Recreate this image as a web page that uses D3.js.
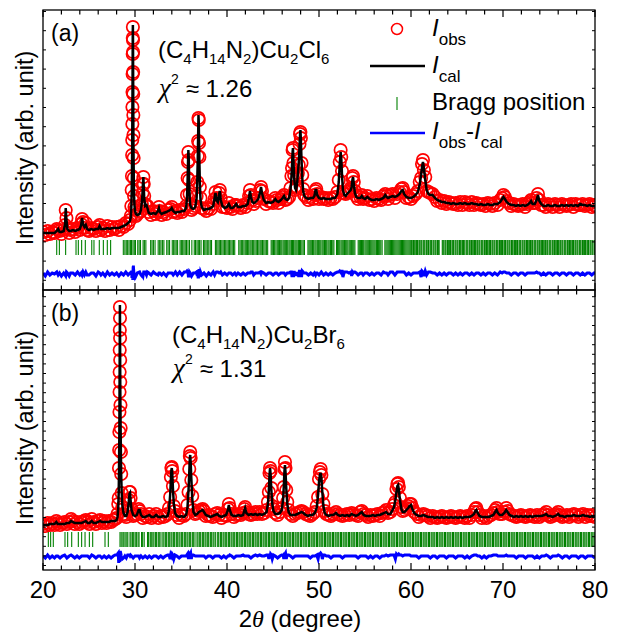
<!DOCTYPE html>
<html>
<head>
<meta charset="utf-8">
<script src="https://cdn.jsdelivr.net/npm/d3@7"></script>
<style>
  body { margin: 0; background: #fff; }
  svg text { font-family: "Liberation Sans", Arial, sans-serif; fill: #000; }
</style>
</head>
<body>
<svg id="chart" width="619" height="635"></svg>
<script>
// Rietveld scans, rows are [2theta, I_cal, I_obs] in arb. units
const scanA = [
  [20.00,57,58],[20.25,57,55],[20.50,57,59],[20.75,57,56],[21.00,57,58],[21.25,57,57],[21.50,59,61],[21.65,61,60],
  [21.80,58,59],[22.00,58,56],[22.25,59,60],[22.40,66,65],[22.47,82,80],[22.55,70,72],[22.65,61,62],[22.85,59,57],
  [23.00,59,60],[23.25,60,61],[23.50,59,58],[23.75,60,62],[24.00,61,60],[24.15,65,66],[24.25,72,71],[24.35,66,68],
  [24.50,63,62],[24.65,65,67],[24.80,61,60],[25.00,60,59],[25.25,61,62],[25.50,60,61],[25.75,61,59],[26.00,61,63],
  [26.15,64,65],[26.30,61,60],[26.50,61,62],[26.75,61,59],[27.00,62,64],[27.25,61,60],[27.50,62,63],[27.75,62,61],
  [28.00,62,63],[28.25,62,60],[28.50,63,64],[28.75,64,63],[29.00,65,67],[29.25,67,66],[29.45,69,70],[29.55,73,74],
  [29.60,82,84],[29.64,98,100],[29.67,118,114],[29.69,138,135],[29.70,152,150],[29.71,168,166],[29.72,184,183],
  [29.73,200,198],[29.74,218,216],[29.75,240,236],[29.76,258,252],[29.77,265,263],[29.78,255,250],[29.79,235,238],
  [29.80,212,218],[29.81,190,196],[29.82,168,175],[29.83,148,155],[29.85,128,132],[29.87,110,112],[29.90,95,94],
  [29.94,85,83],[30.00,79,80],[30.10,76,74],[30.25,75,76],[30.50,76,78],[30.65,80,79],[30.75,88,86],[30.82,98,97],
  [30.87,108,106],[30.91,113,113],[30.95,104,106],[31.00,92,94],[31.10,84,86],[31.25,85,84],[31.35,82,84],
  [31.50,77,78],[31.75,76,75],[32.00,77,79],[32.25,76,76],[32.50,79,78],[32.60,82,83],[32.70,78,79],[32.90,76,75],
  [33.10,77,78],[33.40,78,76],[33.60,79,80],[33.85,80,81],[34.00,82,83],[34.15,79,78],[34.40,77,79],[34.60,78,77],
  [34.85,78,80],[35.10,79,78],[35.35,79,81],[35.55,82,84],[35.65,92,95],[35.72,110,112],[35.76,126,128],
  [35.80,140,138],[35.84,132,130],[35.88,112,110],[35.93,94,96],[36.00,85,86],[36.15,82,80],[36.35,81,82],
  [36.55,83,84],[36.70,92,94],[36.77,110,108],[36.82,130,134],[36.86,152,149],[36.90,175,172],[36.93,168,170],
  [36.96,150,147],[37.00,128,133],[37.05,106,103],[37.12,90,92],[37.25,83,82],[37.50,80,81],[37.75,81,79],
  [38.00,81,82],[38.25,82,81],[38.50,84,86],[38.65,92,91],[38.75,97,98],[38.85,90,92],[39.00,88,90],[39.15,96,97],
  [39.22,99,100],[39.32,90,92],[39.50,84,83],[39.75,82,83],[40.00,83,82],[40.20,86,87],[40.40,82,83],[40.60,82,81],
  [40.85,84,85],[41.00,86,85],[41.20,83,84],[41.50,83,82],[41.75,84,85],[42.00,84,83],[42.25,86,87],[42.40,93,94],
  [42.50,99,100],[42.60,93,95],[42.75,88,90],[42.90,87,86],[43.10,88,89],[43.40,91,92],[43.60,98,100],[43.70,103,103],
  [43.80,97,99],[44.00,90,91],[44.25,87,86],[44.50,88,89],[44.75,87,88],[45.00,88,87],[45.25,91,92],[45.40,89,90],
  [45.60,88,87],[45.85,90,91],[46.05,92,93],[46.20,94,95],[46.35,91,90],[46.55,90,91],[46.75,92,93],[46.90,100,102],
  [47.00,112,114],[47.07,125,122],[47.13,138,140],[47.17,142,142],[47.22,130,127],[47.30,112,115],[47.40,102,100],
  [47.50,100,102],[47.60,105,103],[47.70,115,117],[47.80,128,125],[47.88,142,146],[47.94,155,156],[47.98,160,158],
  [48.03,150,152],[48.10,130,127],[48.18,112,115],[48.28,99,101],[48.40,94,95],[48.60,92,93],[48.85,91,90],
  [49.10,92,93],[49.35,92,91],[49.50,94,95],[49.62,100,99],[49.70,100,101],[49.80,95,96],[50.00,92,91],[50.25,91,93],
  [50.50,92,91],[50.75,91,92],[51.00,91,90],[51.25,91,92],[51.50,92,91],[51.75,92,93],[52.00,96,98],[52.15,108,110],
  [52.25,125,128],[52.35,138,140],[52.42,132,133],[52.50,115,119],[52.60,100,97],[52.75,95,97],[52.90,94,96],
  [53.05,96,98],[53.25,98,99],[53.45,100,102],[53.55,103,101],[53.63,110,112],[53.70,113,114],[53.78,106,108],
  [53.90,97,99],[54.05,93,94],[54.25,92,91],[54.50,92,93],[54.65,94,95],[54.80,92,91],[55.00,91,92],[55.25,93,94],
  [55.50,91,90],[55.75,90,91],[56.00,90,89],[56.25,91,92],[56.50,90,91],[56.75,91,90],[57.00,92,94],[57.20,95,96],
  [57.35,93,94],[57.50,92,91],[57.75,93,95],[58.00,94,96],[58.25,93,92],[58.50,94,96],[58.75,96,98],[58.95,99,101],
  [59.10,100,102],[59.25,96,98],[59.50,93,92],[59.75,92,93],[60.00,92,91],[60.25,93,94],[60.50,95,96],[60.75,98,99],
  [60.95,106,108],[61.10,115,112],[61.20,123,126],[61.30,128,130],[61.40,122,120],[61.55,110,113],[61.70,100,99],
  [61.90,96,98],[62.10,95,97],[62.35,95,96],[62.60,92,93],[62.85,90,89],[63.10,89,90],[63.35,88,87],[63.60,88,89],
  [63.85,87,86],[64.10,87,88],[64.35,86,87],[64.60,87,86],[64.85,86,87],[65.10,86,85],[65.35,87,88],[65.60,86,85],
  [65.85,87,88],[66.10,86,87],[66.35,86,85],[66.60,87,88],[66.85,86,85],[67.10,86,87],[67.35,85,86],[67.60,86,85],
  [67.85,85,86],[68.10,85,84],[68.35,86,87],[68.60,85,86],[68.85,85,84],[69.10,86,87],[69.40,86,85],[69.70,88,90],
  [69.90,91,92],[70.05,93,95],[70.20,91,93],[70.40,88,89],[70.65,86,87],[70.90,85,84],[71.15,85,86],[71.40,84,85],
  [71.65,85,84],[71.90,84,85],[72.15,85,86],[72.40,84,83],[72.65,85,86],[72.90,87,88],[73.05,89,90],[73.20,86,87],
  [73.45,86,87],[73.65,90,92],[73.80,95,96],[73.95,89,90],[74.15,86,85],[74.40,84,85],[74.65,84,83],[74.90,85,86],
  [75.15,84,85],[75.40,84,83],[75.65,85,86],[75.90,84,85],[76.15,84,83],[76.40,85,86],[76.65,84,85],[76.90,85,84],
  [77.15,84,85],[77.40,85,86],[77.65,84,83],[77.90,85,86],[78.15,84,85],[78.40,86,85],[78.65,85,86],[78.90,85,84],
  [79.15,84,85],[79.40,85,86],[79.65,84,83],[79.90,84,85],[80.00,84,84]
];

const scanB = [
  [20.00,45,46],[20.25,45,44],[20.50,45,47],[20.75,46,45],[21.00,46,47],[21.25,46,45],[21.45,48,49],[21.60,46,47],
  [21.85,46,45],[22.10,46,47],[22.35,46,48],[22.60,47,46],[22.85,47,48],[23.05,49,51],[23.20,48,49],[23.45,47,46],
  [23.70,47,48],[23.95,47,46],[24.20,47,48],[24.45,48,49],[24.65,49,50],[24.85,47,48],[25.05,47,46],[25.30,49,51],
  [25.50,47,48],[25.75,47,46],[26.00,48,49],[26.20,49,50],[26.40,48,47],[26.65,48,49],[26.90,48,47],[27.15,48,49],
  [27.40,49,48],[27.65,49,50],[27.85,49,51],[28.00,50,52],[28.10,53,56],[28.18,62,66],[28.23,78,72],[28.26,98,102],
  [28.28,118,120],[28.30,140,138],[28.31,160,158],[28.32,180,178],[28.33,200,198],[28.34,222,220],[28.35,245,240],
  [28.36,265,263],[28.37,250,252],[28.38,228,232],[28.39,205,210],[28.40,182,188],[28.42,160,165],[28.44,138,142],
  [28.47,115,118],[28.50,95,96],[28.55,78,77],[28.62,65,63],[28.75,57,56],[28.90,54,55],[29.05,54,53],[29.20,58,60],
  [29.32,68,70],[29.40,76,78],[29.46,77,78],[29.52,70,72],[29.62,60,61],[29.80,55,54],[30.00,54,55],[30.20,55,56],
  [30.40,60,61],[30.50,60,59],[30.65,55,56],[30.85,53,52],[31.10,53,54],[31.35,54,53],[31.55,55,56],[31.80,53,52],
  [32.05,53,54],[32.30,55,56],[32.55,53,52],[32.80,53,54],[33.05,54,53],[33.30,53,54],[33.55,54,56],[33.70,60,62],
  [33.82,75,73],[33.90,90,93],[33.96,100,102],[34.00,102,103],[34.05,96,99],[34.12,82,84],[34.22,66,64],
  [34.35,57,59],[34.55,54,55],[34.80,53,52],[35.05,54,55],[35.30,53,54],[35.55,55,56],[35.70,62,65],[35.82,80,78],
  [35.90,98,101],[35.96,112,114],[36.00,115,118],[36.05,108,112],[36.12,92,90],[36.22,72,74],[36.35,58,60],
  [36.55,55,56],[36.75,56,57],[36.95,58,59],[37.15,59,60],[37.35,60,61],[37.50,58,59],[37.70,55,54],[37.95,54,55],
  [38.20,53,54],[38.45,54,53],[38.70,55,56],[38.95,56,57],[39.15,54,55],[39.40,53,52],[39.65,54,55],[39.90,55,54],
  [40.10,60,61],[40.20,65,66],[40.30,60,62],[40.50,55,56],[40.75,54,53],[41.00,54,55],[41.25,55,56],[41.50,54,55],
  [41.75,55,57],[41.90,60,61],[41.97,62,63],[42.10,57,58],[42.35,55,56],[42.60,56,55],[42.85,55,56],[43.10,56,58],
  [43.30,55,56],[43.55,56,58],[43.80,55,56],[44.05,56,57],[44.30,58,60],[44.45,66,68],[44.55,80,78],[44.62,95,97],
  [44.68,102,102],[44.74,96,99],[44.82,80,82],[44.92,66,64],[45.05,59,61],[45.25,56,57],[45.50,56,55],[45.75,57,58],
  [45.95,60,62],[46.10,70,72],[46.18,85,83],[46.24,98,101],[46.30,105,108],[46.36,98,102],[46.44,82,80],
  [46.55,66,68],[46.70,58,60],[46.90,55,56],[47.15,55,54],[47.40,55,56],[47.65,56,57],[47.90,57,58],[48.10,58,59],
  [48.30,57,58],[48.55,55,56],[48.80,54,55],[49.05,55,54],[49.30,55,56],[49.55,57,58],[49.75,62,64],[49.90,75,73],
  [50.00,88,91],[50.10,95,98],[50.18,97,101],[50.26,92,95],[50.36,78,76],[50.48,64,66],[50.62,57,59],[50.80,55,56],
  [51.05,54,55],[51.30,55,54],[51.55,55,56],[51.85,57,58],[52.05,55,56],[52.30,54,55],[52.55,55,54],[52.80,54,55],
  [53.05,55,56],[53.30,54,55],[53.55,56,57],[53.75,55,56],[54.00,54,55],[54.25,55,54],[54.50,57,58],[54.65,58,59],
  [54.85,55,56],[55.10,54,55],[55.35,54,53],[55.60,54,55],[55.85,55,54],[56.10,54,55],[56.35,55,56],[56.60,55,54],
  [56.85,56,57],[57.10,57,58],[57.30,58,60],[57.50,56,57],[57.75,56,58],[57.95,59,61],[58.15,63,65],[58.30,70,68],
  [58.42,78,81],[58.52,84,86],[58.60,85,87],[58.68,80,83],[58.80,70,72],[58.95,61,63],[59.10,58,59],[59.30,58,60],
  [59.50,60,62],[59.70,62,64],[59.85,64,66],[60.00,65,66],[60.15,61,62],[60.35,57,58],[60.60,55,56],[60.85,54,53],
  [61.10,54,55],[61.35,55,56],[61.60,54,55],[61.85,53,54],[62.10,53,52],[62.35,53,54],[62.60,52,53],[62.85,53,52],
  [63.10,52,53],[63.35,53,54],[63.60,52,53],[63.85,53,52],[64.10,52,53],[64.35,53,54],[64.60,52,53],[64.85,53,52],
  [65.10,52,53],[65.35,53,54],[65.60,52,53],[65.85,53,52],[66.10,53,54],[66.35,53,52],[66.60,54,55],[66.85,56,58],
  [67.00,59,61],[67.10,60,62],[67.25,57,58],[67.45,54,55],[67.70,53,52],[67.95,53,54],[68.20,53,52],[68.45,53,54],
  [68.70,54,55],[68.95,55,57],[69.15,58,60],[69.30,60,62],[69.45,57,58],[69.65,55,56],[69.90,55,56],[70.15,57,58],
  [70.35,60,62],[70.50,58,59],[70.70,55,56],[70.95,54,55],[71.20,53,54],[71.45,54,53],[71.70,53,54],[71.95,54,55],
  [72.20,53,54],[72.45,54,53],[72.70,53,54],[72.95,54,55],[73.20,53,54],[73.45,54,53],[73.70,54,55],[73.95,54,53],
  [74.20,54,55],[74.50,55,56],[74.70,56,58],[74.90,54,55],[75.15,54,53],[75.40,53,54],[75.65,54,55],[75.85,55,56],
  [76.00,56,58],[76.20,54,55],[76.45,54,53],[76.70,53,54],[76.95,54,55],[77.20,54,53],[77.45,54,55],[77.70,55,56],
  [77.95,54,55],[78.20,54,53],[78.45,54,55],[78.70,55,56],[78.95,54,53],[79.20,54,55],[79.45,53,54],[79.70,54,55],
  [80.00,54,53]
];

// Bragg reflection positions (2theta)
const braggA = [
  21.49,21.78,22.46,23.59,23.84,24.2,24.6,25.3,25.54,26.12,26.56,26.99,27.35,
  28.73,28.9,29.05,29.2,29.35,29.5,29.62,29.78,29.92,30.05,30.3,30.45,30.6,30.88,31.02,31.18,31.7,31.85,32.0,32.18,
  32.52,32.68,32.82,32.98,33.14,33.45,33.6,33.76,34.05,34.2,34.34,34.48,34.63,34.9,35.04,35.18,35.32,35.46,35.6,
  35.76,35.92,36.18,36.44,36.58,36.74,36.88,37.02,37.18,37.44,37.58,37.72,37.86,38.02,38.18,38.32,38.74,38.88,
  39.02,39.16,39.3,39.44,39.58,39.72,39.86,40.0,40.14,40.28,40.42,40.56,40.7,40.84,41.28,41.42,41.56,41.7,41.84,
  41.98,42.1,42.22,42.36,42.5,42.62,42.76,42.9,43.04,43.18,43.32,43.46,43.6,43.72,43.86,44.0,44.14,44.28,44.42,
  44.8,44.92,45.06,45.18,45.32,45.46,45.58,45.7,45.84,45.96,46.1,46.22,46.34,46.48,46.6,46.74,46.86,47.0,47.12,
  47.24,47.38,47.5,47.62,47.76,47.88,48.0,48.14,48.28,48.42,48.8,48.92,49.04,49.16,49.3,49.42,49.56,49.68,49.82,
  49.96,50.08,50.2,50.34,50.46,50.6,50.72,50.84,50.98,51.1,51.24,51.36,51.5,51.62,51.9,52.02,52.14,52.26,52.4,
  52.52,52.64,52.78,52.9,53.02,53.14,53.28,53.4,53.52,53.66,53.78,53.9,54.26,54.38,54.5,54.62,54.74,54.86,55.0,
  55.12,55.24,55.36,55.5,55.62,55.74,55.86,55.98,56.1,56.24,56.36,56.48,56.6,56.72,56.86,57.16,57.28,57.4,57.52,
  57.64,57.76,57.88,58.0,58.12,58.24,58.36,58.48,58.6,58.72,58.84,58.96,59.08,59.2,59.32,59.44,59.56,59.68,59.8,
  59.92,60.04,60.13,60.27,60.36,60.52,60.61,60.7,60.86,60.95,61.08,61.17,61.33,61.42,61.51,61.67,61.76,61.9,62.06,
  62.15,62.24,62.4,62.49,62.63,62.72,62.88,62.97,63.06,63.4,63.49,63.58,63.72,63.81,63.97,64.06,64.2,64.29,64.45,
  64.54,64.63,64.79,64.88,65.02,65.11,65.27,65.36,65.45,65.61,65.7,65.84,66.0,66.09,66.18,66.34,66.43,66.57,66.66,
  66.82,66.91,67.0,67.16,67.25,67.39,67.48,67.64,67.73,67.82,67.98,68.07,68.21,68.3,68.46,68.55,68.64,68.8,68.89,
  69.03,69.12,69.28,69.37,69.46,69.62,69.71,69.85,69.94,70.1,70.19,70.28,70.44,70.53,70.67,70.76,70.92,71.01,71.1,
  71.26,71.35,71.49,71.58,71.74,71.83,71.92,72.08,72.17,72.31,72.4,72.56,72.65,72.74,72.9,72.99,73.13,73.22,73.38,
  73.47,73.56,73.72,73.81,73.95,74.04,74.2,74.29,74.38,74.54,74.63,74.77,74.86,75.02,75.11,75.2,75.36,75.45,75.59,
  75.68,75.84,75.93,76.02,76.18,76.27,76.41,76.5,76.66,76.75,76.84,77.0,77.09,77.23,77.32,77.48,77.57,77.66,77.82,
  77.91,78.05,78.14,78.3,78.39,78.48,78.64,78.73,78.87,78.96,79.12,79.21,79.3,79.46,79.55,79.69,79.78,79.94
];

const braggB = [
  20.58,20.83,21.12,22.39,22.68,23.12,23.84,24.2,24.57,25.04,25.4,26.74,27.1,
  28.37,28.5,28.68,28.79,28.93,29.11,29.22,29.46,29.57,29.74,29.86,30.02,30.15,30.33,30.44,30.71,30.83,31.0,31.36,
  31.48,31.66,31.77,31.94,32.06,32.24,32.35,32.53,32.64,32.82,33.03,33.15,33.33,33.44,33.62,33.73,33.91,34.02,34.2,
  34.31,34.49,34.6,34.78,34.89,35.07,35.18,35.36,35.47,35.65,35.76,35.94,36.05,36.23,36.34,36.52,36.74,36.85,37.03,
  37.14,37.32,37.43,37.61,37.72,37.9,38.01,38.19,38.3,38.48,38.59,38.77,38.99,39.1,39.28,39.39,39.57,39.68,39.86,
  39.97,40.15,40.26,40.44,40.55,40.73,40.84,41.02,41.13,41.31,41.42,41.6,41.71,41.89,42.0,42.18,42.29,42.47,42.58,
  42.76,42.87,43.05,43.16,43.34,43.45,43.63,43.74,43.92,44.03,44.21,44.32,44.5,44.61,44.79,44.9,45.08,45.19,45.37,
  45.48,45.66,45.77,45.95,46.06,46.24,46.35,46.53,46.64,46.82,46.93,47.11,47.22,47.4,47.51,47.69,47.8,47.98,48.09,
  48.27,48.38,48.56,48.67,48.85,48.96,49.14,49.25,49.43,49.54,49.72,49.83,50.01,50.12,50.3,50.41,50.59,50.7,50.88,
  50.99,51.17,51.28,51.46,51.57,51.75,51.86,52.04,52.15,52.33,52.44,52.62,52.73,52.91,53.02,53.2,53.31,53.49,53.6,
  53.78,53.89,54.07,54.18,54.36,54.47,54.65,54.76,54.94,55.05,55.23,55.34,55.52,55.63,55.81,55.92,56.1,56.21,56.39,
  56.5,56.68,56.79,56.97,57.08,57.26,57.37,57.55,57.66,57.84,57.95,58.13,58.24,58.42,58.53,58.71,58.82,59.0,59.11,
  59.29,59.4,59.58,59.69,59.87,59.98,60.16,60.27,60.45,60.56,60.74,60.85,61.03,61.14,61.32,61.43,61.61,61.72,61.9,
  62.01,62.19,62.3,62.48,62.59,62.77,62.88,63.06,63.17,63.35,63.46,63.64,63.75,63.93,64.04,64.22,64.33,64.51,64.62,
  64.8,64.91,65.09,65.2,65.38,65.49,65.67,65.78,65.96,66.07,66.25,66.36,66.54,66.65,66.83,66.94,67.12,67.23,67.41,
  67.52,67.7,67.81,67.99,68.1,68.28,68.39,68.57,68.68,68.86,68.97,69.15,69.26,69.44,69.55,69.73,69.84,70.02,70.13,
  70.31,70.42,70.6,70.71,70.89,71.0,71.18,71.29,71.47,71.58,71.76,71.87,72.05,72.16,72.34,72.45,72.63,72.74,72.92,
  73.03,73.21,73.32,73.5,73.61,73.79,73.9,74.08,74.19,74.37,74.48,74.66,74.77,74.95,75.06,75.24,75.35,75.53,75.64,
  75.82,75.93,76.11,76.22,76.4,76.51,76.69,76.8,76.98,77.09,77.27,77.38,77.56,77.67,77.85,77.96,78.14,78.25,78.43,
  78.54,78.72,78.83,79.01,79.12,79.3,79.41,79.59,79.7,79.88,79.99
];

const xTickValues = [20, 30, 40, 50, 60, 70, 80];
const formulaA = [["(C",0],["4",1],["H",0],["14",1],["N",0],["2",1],[")Cu",0],["2",1],["Cl",0],["6",1]];
const formulaB = [["(C",0],["4",1],["H",0],["14",1],["N",0],["2",1],[")Cu",0],["2",1],["Br",0],["6",1]];
const chiA = "1.26";
const chiB = "1.31";

const svg = d3.select("#chart");
const left = 43, right = 595;
const x = d3.scaleLinear().domain([20, 80]).range([left, right]);

const panels = [
  {key: "a", label: "(a)", scan: scanA, bragg: braggA, top: 10, bottom: 290,
   formula: formulaA, chi: chiA, fx: 158, fy: 58, cy: 97,
   braggLo: 35, braggHi: 50, diffZero: 16, yTickStart: 9.7, yTickStep: 19.2},
  {key: "b", label: "(b)", scan: scanB, bragg: braggB, top: 290, bottom: 570,
   formula: formulaB, chi: chiB, fx: 172, fy: 343, cy: 377,
   braggLo: 23, braggHi: 38, diffZero: 13, yTickStart: 4.5, yTickStep: 9.6}
];

panels.forEach(p => {
  const y = d3.scaleLinear().domain([0, 280]).range([p.bottom, p.top]);
  const g = svg.append("g");

  g.append("clipPath").attr("id", "clip-" + p.key)
    .append("rect").attr("x", left).attr("y", p.top)
    .attr("width", right - left).attr("height", p.bottom - p.top);
  const plot = g.append("g").attr("clip-path", "url(#clip-" + p.key + ")");

  // observed points
  plot.selectAll("circle.obs").data(p.scan).join("circle")
    .attr("class", "obs")
    .attr("cx", d => x(d[0])).attr("cy", d => y(d[2]))
    .attr("r", 6.2).attr("fill", "none")
    .attr("stroke", "#ff0000").attr("stroke-width", 1.7);

  // calculated profile
  plot.append("path").datum(p.scan)
    .attr("d", d3.line().x(d => x(d[0])).y(d => y(d[1])))
    .attr("fill", "none").attr("stroke", "#000").attr("stroke-width", 2.5);

  // Bragg positions
  plot.selectAll("line.bragg").data(p.bragg).join("line")
    .attr("class", "bragg")
    .attr("x1", d => x(d)).attr("x2", d => x(d))
    .attr("y1", y(p.braggLo)).attr("y2", y(p.braggHi))
    .attr("stroke", "#008000").attr("stroke-width", 1.1);

  // difference curve
  plot.append("path").datum(p.scan)
    .attr("d", d3.line().x(d => x(d[0])).y(d => y(p.diffZero + d[2] - d[1])))
    .attr("fill", "none").attr("stroke", "#0000ff").attr("stroke-width", 3);

  // frame
  g.append("rect").attr("x", left).attr("y", p.top)
    .attr("width", right - left).attr("height", p.bottom - p.top)
    .attr("fill", "none").attr("stroke", "#000").attr("stroke-width", 1.3);

  // x ticks on top and bottom, pointing inward
  const xt = d3.range(20, 81, 2);
  [[p.top, 1], [p.bottom, -1]].forEach(([yy, dir]) => {
    g.selectAll(null).data(xt).join("line")
      .attr("x1", d => x(d)).attr("x2", d => x(d))
      .attr("y1", yy).attr("y2", d => yy + dir * (d % 10 === 0 ? 7 : 4.5))
      .attr("stroke", "#000").attr("stroke-width", 1.2);
  });

  // y ticks left and right
  const yt = d3.range(p.yTickStart, 280, p.yTickStep);
  [[left, 1], [right, -1]].forEach(([xx, dir]) => {
    g.selectAll(null).data(yt).join("line")
      .attr("x1", xx).attr("x2", xx + dir * 3)
      .attr("y1", d => y(d)).attr("y2", d => y(d))
      .attr("stroke", "#000").attr("stroke-width", 1);
  });

  // panel label
  g.append("text").attr("x", 51).attr("y", p.top + 31)
    .attr("font-size", 23).text(p.label);

  // formula
  const f = g.append("text").attr("x", p.fx).attr("y", p.fy).attr("font-size", 24);
  let shifted = 0;
  p.formula.forEach(([s, sub]) => {
    const dy = sub ? 6 - shifted : -shifted;
    shifted = sub ? 6 : 0;
    f.append("tspan").attr("dy", dy).attr("font-size", sub ? 15 : 24).text(s);
  });

  // chi^2
  const c = g.append("text").attr("x", p.fx + 1).attr("y", p.cy).attr("font-size", 24);
  c.append("tspan").attr("font-family", "Liberation Serif, serif").attr("font-style", "italic")
    .attr("font-size", 27).text("\u03c7");
  c.append("tspan").attr("dy", -13).attr("font-size", 14).text("2");
  c.append("tspan").attr("dy", 13).attr("dx", 7).text("\u2248 " + p.chi);

  // y title
  svg.append("text")
    .attr("transform", `translate(33,${(p.top + p.bottom) / 2 - 2}) rotate(-90)`)
    .attr("text-anchor", "middle").attr("font-size", 23.5)
    .text("Intensity (arb. unit)");
});

// x tick labels
svg.selectAll("text.xtl").data(xTickValues).join("text")
  .attr("class", "xtl")
  .attr("x", d => x(d)).attr("y", 598)
  .attr("text-anchor", "middle").attr("font-size", 24)
  .text(d => d);

// x title
const xt = svg.append("text").attr("x", 300).attr("y", 627)
  .attr("text-anchor", "middle").attr("font-size", 24);
xt.append("tspan").text("2");
xt.append("tspan").attr("font-family", "Liberation Serif, serif").attr("font-style", "italic").text("\u03b8");
xt.append("tspan").text(" (degree)");

// legend in panel (a)
const lg = svg.append("g");
lg.append("circle").attr("cx", 397).attr("cy", 29).attr("r", 5.5)
  .attr("fill", "none").attr("stroke", "#ff0000").attr("stroke-width", 1.5);
lg.append("line").attr("x1", 370).attr("x2", 425).attr("y1", 66).attr("y2", 66)
  .attr("stroke", "#000").attr("stroke-width", 2.3);
lg.append("line").attr("x1", 397).attr("x2", 397).attr("y1", 97).attr("y2", 110)
  .attr("stroke", "#008000").attr("stroke-width", 1.1);
lg.append("line").attr("x1", 370).attr("x2", 425).attr("y1", 133).attr("y2", 133)
  .attr("stroke", "#0000ff").attr("stroke-width", 2.5);

function italicI(t) {
  t.append("tspan").attr("font-style", "italic").text("I");
}
const l1 = lg.append("text").attr("x", 432).attr("y", 36).attr("font-size", 24);
italicI(l1);
l1.append("tspan").attr("dy", 9).attr("font-size", 17).text("obs");
const l2 = lg.append("text").attr("x", 432).attr("y", 73).attr("font-size", 24);
italicI(l2);
l2.append("tspan").attr("dy", 9).attr("font-size", 17).text("cal");
lg.append("text").attr("x", 432).attr("y", 110).attr("font-size", 24).text("Bragg position");
const l4 = lg.append("text").attr("x", 432).attr("y", 139).attr("font-size", 24);
italicI(l4);
l4.append("tspan").attr("dy", 9).attr("font-size", 17).text("obs");
l4.append("tspan").attr("dy", -9).text("-");
italicI(l4);
l4.append("tspan").attr("dy", 9).attr("font-size", 17).text("cal");
</script>
</body>
</html>
